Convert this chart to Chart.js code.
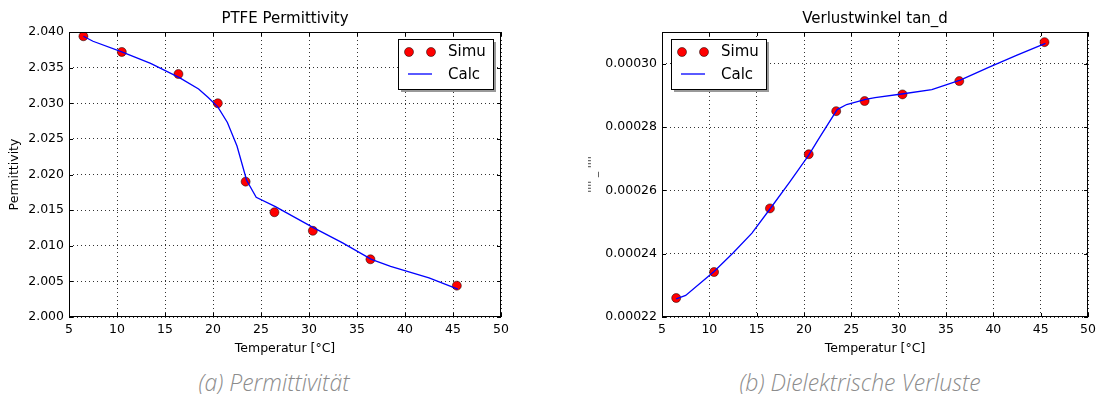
<!DOCTYPE html>
<html>
<head>
<meta charset="utf-8">
<script src="https://cdn.jsdelivr.net/npm/chart.js@4.4.0/dist/chart.umd.min.js"></script>
<style>
  body { margin: 0; background: #fff; width: 1101px; height: 394px; position: relative; overflow: hidden; }
  #leftChart { position: absolute; left: 0; top: 0; }
  #rightChart { position: absolute; left: 580px; top: 0; }
  .caption { position: absolute; top: 366px; font-family: "Open Sans", sans-serif; font-style: italic; font-weight: 300;
             font-size: 23px; line-height: 32px; color: #8c8c8c; transform: translateX(-50%); white-space: nowrap; }
</style>
</head>
<body>
<canvas id="leftChart" width="550" height="360"></canvas>
<canvas id="rightChart" width="521" height="360"></canvas>
<div class="caption" style="left:274px">(a) Permittivität</div>
<div class="caption" style="left:860px">(b) Dielektrische Verluste</div>

<script>
// Simulationspunkte
const tempSimu = [6.5, 10.5, 16.4, 20.5, 23.4, 26.4, 30.4, 36.4, 45.4];
const permSimu = [2.0394, 2.0372, 2.0341, 2.0300, 2.0190, 2.0147, 2.0121, 2.0081, 2.0044];
const tanSimu = [0.0002260, 0.0002342, 0.0002543, 0.0002714, 0.0002850, 0.0002882, 0.0002903, 0.0002945, 0.0003068];

// Berechnete Kurven
const tempCalcPerm = [6.5, 7.5, 10.5, 13.5, 16.5, 18.5, 19.5, 20.5, 21.5, 22.5, 23.5, 24.5, 26.5, 30.5, 33.5, 36.5, 38.5, 42.5, 45.5];
const permCalc = [2.0394, 2.0387, 2.0372, 2.0356, 2.0336, 2.0320, 2.0308, 2.0295, 2.0273, 2.0240, 2.0192, 2.0168, 2.0155, 2.0125, 2.0104, 2.0081, 2.0071, 2.0055, 2.0039];
const tempCalcTan = [6.5, 7.5, 10.5, 12.5, 14.5, 16.5, 18.5, 20.5, 21.5, 23.5, 24.5, 26.5, 27.5, 30.5, 33.5, 36.5, 39.5, 42.5, 45.5];
const tanCalc = [0.0002257, 0.0002268, 0.0002344, 0.0002402, 0.0002465, 0.0002545, 0.0002627, 0.0002711, 0.0002760, 0.0002855, 0.0002871, 0.0002887, 0.0002893, 0.0002905, 0.0002918, 0.0002948, 0.0002988, 0.0003027, 0.0003064];

// Achsen
const xTicks = [5, 10, 15, 20, 25, 30, 35, 40, 45, 50];
const permRange = [2.000, 2.040];
const tanRange = [0.00022, 0.00031];

const FONT = '"DejaVu Sans", sans-serif';

function toPoints(xs, ys) {
    return xs.map((x, i) => ({ x: x, y: ys[i] }));
}

// Titel, Rahmen, Ticks nach innen und Legende wie bei matplotlib
const mplFrame = {
    id: 'mplFrame',
    afterDraw(chart, args, opts) {
        const ctx = chart.ctx;
        const a = chart.chartArea;
        const xs = chart.scales.x, ys = chart.scales.y;
        ctx.save();

        // Titel mittig über der Zeichenfläche
        ctx.fillStyle = '#000';
        ctx.font = '15px ' + FONT;
        ctx.textAlign = 'center';
        ctx.textBaseline = 'middle';
        ctx.fillText(opts.title, (a.left + a.right) / 2, a.top - 13);

        ctx.strokeStyle = '#000';
        ctx.lineWidth = 1;
        ctx.beginPath();
        xs.ticks.forEach(t => {
            const px = Math.round(xs.getPixelForValue(t.value)) + 0.5;
            ctx.moveTo(px, a.bottom); ctx.lineTo(px, a.bottom - 4);
            ctx.moveTo(px, a.top); ctx.lineTo(px, a.top + 4);
        });
        ys.ticks.forEach(t => {
            const py = Math.round(ys.getPixelForValue(t.value)) + 0.5;
            ctx.moveTo(a.left, py); ctx.lineTo(a.left + 4, py);
            ctx.moveTo(a.right, py); ctx.lineTo(a.right - 4, py);
        });
        ctx.stroke();
        ctx.strokeRect(Math.round(a.left) + 0.5, Math.round(a.top) + 0.5,
                       Math.round(a.right - a.left) - 1, Math.round(a.bottom - a.top) - 1);

        // Legende
        const w = 95, h = 50;
        const bx = opts.side === 'left' ? a.left + 9 : a.right - 8 - w;
        const by = a.top + 7;
        ctx.fillStyle = '#999';
        ctx.fillRect(bx + 3, by + 3, w, h);
        ctx.fillStyle = '#fff';
        ctx.fillRect(bx, by, w, h);
        ctx.strokeStyle = '#000';
        ctx.strokeRect(bx + 0.5, by + 0.5, w, h);

        const simu = chart.data.datasets[1];
        const calc = chart.data.datasets[0];
        [bx + 11, bx + 33].forEach(mx => {
            ctx.beginPath();
            ctx.arc(mx, by + 13, 4.5, 0, Math.PI * 2);
            ctx.fillStyle = simu.backgroundColor;
            ctx.fill();
            ctx.lineWidth = 0.5;
            ctx.strokeStyle = simu.borderColor;
            ctx.stroke();
        });
        ctx.beginPath();
        ctx.moveTo(bx + 10, by + 35);
        ctx.lineTo(bx + 34, by + 35);
        ctx.strokeStyle = calc.borderColor;
        ctx.lineWidth = 1.3;
        ctx.stroke();

        ctx.fillStyle = '#000';
        ctx.font = '15px ' + FONT;
        ctx.textBaseline = 'middle';
        ctx.textAlign = 'left';
        ctx.fillText(simu.label, bx + 50, by + 13);
        ctx.fillText(calc.label, bx + 50, by + 36);
        ctx.restore();
    }
};

function makeChart(id, cfg) {
    return new Chart(document.getElementById(id), {
        type: 'scatter',
        data: {
            datasets: [
                {
                    label: 'Calc',
                    data: toPoints(cfg.calcX, cfg.calcY),
                    showLine: true,
                    borderColor: '#0000ff',
                    borderWidth: 1.3,
                    pointRadius: 0,
                    tension: 0,
                    order: 0
                },
                {
                    label: 'Simu',
                    data: toPoints(cfg.simuX, cfg.simuY),
                    showLine: false,
                    backgroundColor: '#ff0000',
                    borderColor: '#000000',
                    borderWidth: 0.5,
                    pointRadius: 4.5,
                    order: 1
                }
            ]
        },
        options: {
            responsive: false,
            animation: false,
            layout: { padding: { left: 0, right: cfg.padRight, top: 32, bottom: 0 } },
            plugins: {
                legend: { display: false },
                tooltip: { enabled: false },
                title: { display: false },
                mplFrame: { side: cfg.legendSide, title: cfg.title }
            },
            scales: {
                x: {
                    type: 'linear',
                    min: xTicks[0],
                    max: xTicks[xTicks.length - 1],
                    afterBuildTicks: s => { s.ticks = xTicks.map(v => ({ value: v })); },
                    afterFit: s => { s.height = 43; },
                    grid: { color: '#333', drawTicks: false, lineWidth: 1 },
                    border: { display: false, dash: [1, 3] },
                    ticks: { color: '#000', padding: 5, font: { family: FONT, size: 12.5 } },
                    title: {
                        display: true,
                        text: 'Temperatur [°C]',
                        color: '#000',
                        font: { family: FONT, size: 12.5 },
                        padding: { top: 0, bottom: 4 }
                    }
                },
                y: {
                    type: 'linear',
                    min: cfg.yRange[0],
                    max: cfg.yRange[1],
                    afterFit: s => { s.width = cfg.yWidth; },
                    grid: { color: '#333', drawTicks: false, lineWidth: 1 },
                    border: { display: false, dash: [1, 3] },
                    ticks: {
                        color: '#000',
                        padding: 5,
                        stepSize: cfg.yStep,
                        includeBounds: false,
                        font: { family: FONT, size: 12.5 },
                        callback: v => v.toFixed(cfg.yDigits)
                    },
                    title: {
                        display: true,
                        text: cfg.yTitle,
                        color: cfg.yTitleColor,
                        font: { family: FONT, size: cfg.yTitleSize },
                        padding: { top: cfg.yTitlePad, bottom: 0 }
                    }
                }
            }
        },
        plugins: [mplFrame]
    });
}

makeChart('leftChart', {
    title: 'PTFE Permittivity',
    simuX: tempSimu, simuY: permSimu,
    calcX: tempCalcPerm, calcY: permCalc,
    yRange: permRange, yStep: 0.005, yDigits: 3,
    yTitle: 'Permittivity', yTitleSize: 12.5, yTitleColor: '#000', yTitlePad: 7,
    yWidth: 69, padRight: 49, legendSide: 'right'
});

makeChart('rightChart', {
    title: 'Verlustwinkel tan_d',
    simuX: tempSimu, simuY: tanSimu,
    calcX: tempCalcTan, calcY: tanCalc,
    yRange: tanRange, yStep: 0.00002, yDigits: 5,
    yTitle: "'''' _ ''''", yTitleSize: 11, yTitleColor: '#333', yTitlePad: 7,
    yWidth: 82, padRight: 6, legendSide: 'left'
});
</script>
</body>
</html>
